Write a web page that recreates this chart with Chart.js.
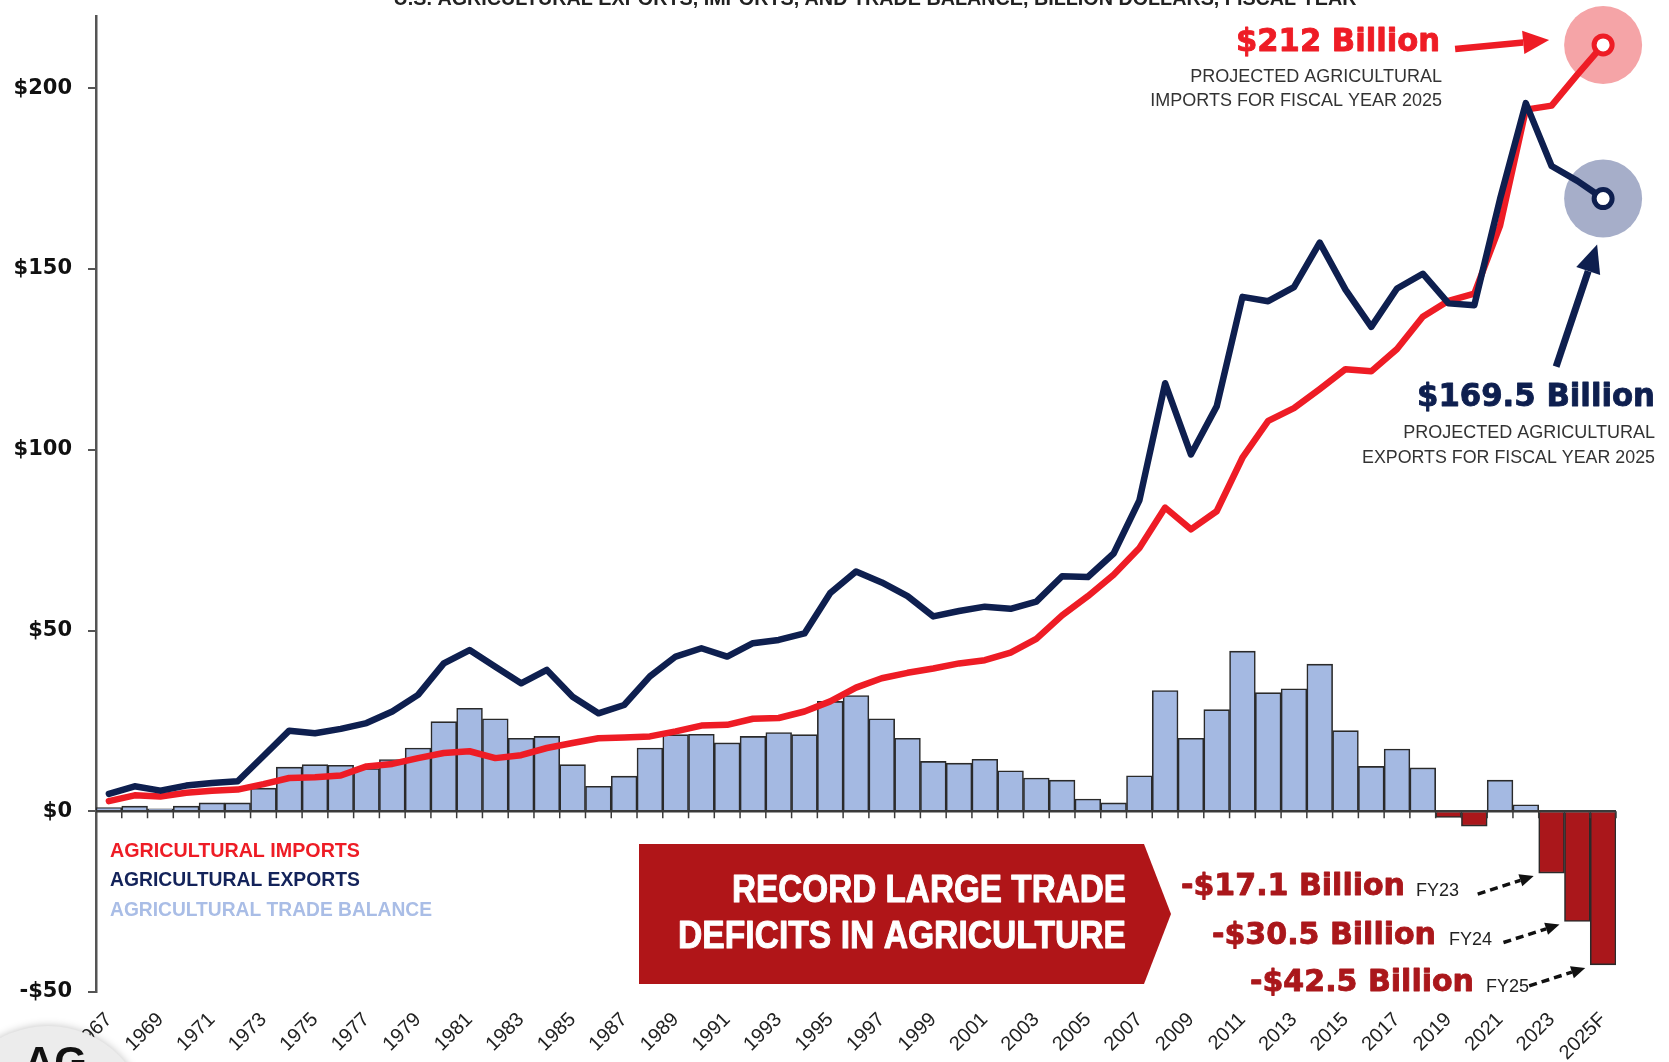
<!DOCTYPE html>
<html>
<head>
<meta charset="utf-8">
<title>U.S. Agricultural Trade</title>
<script src="https://cdn.jsdelivr.net/npm/chart.js@4.4.1/dist/chart.umd.min.js"></script>
<style>
  html, body { margin: 0; padding: 0; background: #fff; }
  #wrap { width: 1669px; height: 1062px; position: relative; }
</style>
</head>
<body>
<div id="wrap"><canvas id="grafico"></canvas></div>
<script>
const years = ['1967','1968','1969','1970','1971','1972','1973','1974','1975','1976',
  '1977','1978','1979','1980','1981','1982','1983','1984','1985','1986',
  '1987','1988','1989','1990','1991','1992','1993','1994','1995','1996',
  '1997','1998','1999','2000','2001','2002','2003','2004','2005','2006',
  '2007','2008','2009','2010','2011','2012','2013','2014','2015','2016',
  '2017','2018','2019','2020','2021','2022','2023','2024','2025F'];

// billion dollars, fiscal year
const exportsUS = [4.8, 6.9, 5.7, 7.1, 7.8, 8.3, 15.3, 22.3, 21.6, 22.8,
  24.4, 27.6, 32.2, 40.9, 44.6, 40.0, 35.4, 39.1, 31.7, 27.1,
  29.4, 37.3, 42.8, 45.1, 42.8, 46.5, 47.4, 49.2, 60.4, 66.3,
  63.3, 59.5, 53.9, 55.4, 56.6, 56.0, 58.0, 65.0, 64.8, 71.3,
  86.0, 118.4, 98.7, 112.0, 142.3, 141.1, 145.0, 157.3, 144.3, 134.0,
  144.6, 148.7, 140.5, 140.0, 169.4, 195.9, 178.5, 174.4, 169.5];

const importsUS = [2.8, 4.4, 4.1, 5.1, 5.7, 6.0, 7.5, 9.2, 9.4, 9.9,
  12.4, 13.1, 14.7, 16.1, 16.6, 14.7, 15.5, 17.5, 18.9, 20.2,
  20.4, 20.7, 22.1, 23.7, 23.9, 25.6, 25.8, 27.6, 30.4, 34.2,
  36.8, 38.3, 39.5, 40.9, 41.8, 43.9, 47.7, 54.2, 59.5, 65.4,
  72.8, 84.0, 78.0, 83.0, 97.8, 108.0, 111.5, 116.8, 122.3, 121.7,
  127.9, 136.8, 141.2, 143.2, 162.0, 194.1, 195.2, 203.8, 212.0];

const balance = [1.0, 1.4, 0.7, 1.4, 2.3, 2.3, 6.4, 12.2, 12.9, 12.7,
  11.8, 14.3, 17.5, 24.8, 28.5, 25.6, 20.2, 20.7, 12.9, 6.9,
  9.7, 17.5, 21.2, 21.3, 18.9, 20.7, 21.8, 21.2, 30.4, 32.0,
  25.6, 20.2, 13.8, 13.3, 14.4, 11.2, 9.2, 8.6, 3.4, 2.3,
  9.8, 33.4, 20.2, 28.1, 44.3, 32.8, 33.9, 40.7, 22.3, 12.4,
  17.2, 12.0, -1.7, -4.1, 8.6, 1.8, -17.1, -30.5, -42.5];

const yTicks = [-50, 0, 50, 100, 150, 200];

const NAVY = '#0e1f4f';
const RED = '#ee1c25';
const DARK_RED = '#aa171b';
const BAR_BLUE = '#a4b9e2';
const last = years.length - 1;

function arrow(ctx, x1, y1, x2, y2, color, width, head, dash) {
  const a = Math.atan2(y2 - y1, x2 - x1);
  const bx = x2 - Math.cos(a) * head;
  const by = y2 - Math.sin(a) * head;
  ctx.save();
  ctx.strokeStyle = color;
  ctx.fillStyle = color;
  ctx.lineWidth = width;
  if (dash) ctx.setLineDash(dash);
  ctx.beginPath();
  ctx.moveTo(x1, y1);
  ctx.lineTo(bx, by);
  ctx.stroke();
  ctx.setLineDash([]);
  ctx.beginPath();
  ctx.moveTo(x2, y2);
  ctx.lineTo(bx + Math.sin(a) * head * 0.45, by - Math.cos(a) * head * 0.45);
  ctx.lineTo(bx - Math.sin(a) * head * 0.45, by + Math.cos(a) * head * 0.45);
  ctx.closePath();
  ctx.fill();
  ctx.restore();
}

// heavy = stroke the glyphs too, to get a blacker weight
function txt(ctx, s, x, y, font, color, align, maxW, heavy) {
  ctx.save();
  ctx.font = font;
  ctx.fillStyle = color;
  ctx.textAlign = align || 'left';
  ctx.textBaseline = 'middle';
  if (heavy) {
    ctx.strokeStyle = color;
    ctx.lineWidth = heavy;
    ctx.lineJoin = 'round';
    if (maxW) ctx.strokeText(s, x, y, maxW); else ctx.strokeText(s, x, y);
  }
  if (maxW) ctx.fillText(s, x, y, maxW);
  else ctx.fillText(s, x, y);
  ctx.restore();
}

// light halos behind the 2025 points
const halos = {
  id: 'halos',
  beforeDatasetsDraw(chart) {
    const ctx = chart.ctx;
    [[1, '#f5a4a7'], [2, '#a6aec9']].forEach(([di, c]) => {
      const p = chart.getDatasetMeta(di).data[last];
      ctx.save();
      ctx.fillStyle = c;
      ctx.beginPath();
      ctx.arc(p.x, p.y, 39, 0, Math.PI * 2);
      ctx.fill();
      ctx.restore();
    });
  }
};

// zero line with small ticks between the years
const zeroLine = {
  id: 'zeroLine',
  afterDatasetsDraw(chart) {
    const { ctx, chartArea, scales: { x, y } } = chart;
    const y0 = y.getPixelForValue(0);
    const half = (x.getPixelForValue(1) - x.getPixelForValue(0)) / 2;
    ctx.save();
    ctx.strokeStyle = '#3a3a3a';
    ctx.lineWidth = 2.5;
    ctx.beginPath();
    ctx.moveTo(chartArea.left, y0);
    ctx.lineTo(chartArea.right, y0);
    ctx.stroke();
    ctx.lineWidth = 1.5;
    for (let i = 0; i < years.length; i++) {
      const bx = x.getPixelForValue(i) + half;
      ctx.beginPath();
      ctx.moveTo(bx, y0);
      ctx.lineTo(bx, y0 + 7);
      ctx.stroke();
    }
    ctx.restore();
  }
};

const notes = {
  id: 'notes',
  afterDraw(chart) {
    const { ctx, scales: { x, y } } = chart;

    // title, cut at the top edge
    ctx.save();
    ctx.font = 'bold 20px "Liberation Sans"';
    ctx.fillStyle = '#222';
    ctx.textAlign = 'center';
    ctx.textBaseline = 'alphabetic';
    ctx.fillText('U.S. AGRICULTURAL EXPORTS, IMPORTS, AND TRADE BALANCE, BILLION DOLLARS, FISCAL YEAR', 875, 5, 963);
    ctx.restore();

    // legend
    const lf = 'bold 20px "Liberation Sans"';
    txt(ctx, 'AGRICULTURAL IMPORTS', 110, 851, lf, RED, 'left', 250);
    txt(ctx, 'AGRICULTURAL EXPORTS', 110, 880, lf, '#13235a', 'left', 250);
    txt(ctx, 'AGRICULTURAL TRADE BALANCE', 110, 910, lf, '#a9bde6', 'left', 322);

    // imports 2025 note
    const pi = chart.getDatasetMeta(1).data[last];
    txt(ctx, '$212 Billion', 1440, 43, 'bold 32px "DejaVu Sans"', RED, 'right', 204, 0.9);
    txt(ctx, 'PROJECTED AGRICULTURAL', 1442, 77, '18px "Liberation Sans"', '#333', 'right', 253);
    txt(ctx, 'IMPORTS FOR FISCAL YEAR 2025', 1442, 101, '18px "Liberation Sans"', '#333', 'right', 296);
    arrow(ctx, pi.x - 148, pi.y + 4, pi.x - 54, pi.y - 5, RED, 6.5, 26);

    // exports 2025 note
    const pe = chart.getDatasetMeta(2).data[last];
    txt(ctx, '$169.5 Billion', 1655, 398, 'bold 32px "DejaVu Sans"', NAVY, 'right', 238, 0.9);
    txt(ctx, 'PROJECTED AGRICULTURAL', 1655, 433, '18px "Liberation Sans"', '#333', 'right', 253);
    txt(ctx, 'EXPORTS FOR FISCAL YEAR 2025', 1655, 458, '18px "Liberation Sans"', '#333', 'right', 293);
    arrow(ctx, pe.x - 47, pe.y + 168, pe.x - 6, pe.y + 46, NAVY, 7, 28);

    // banner
    ctx.save();
    ctx.fillStyle = '#b01518';
    ctx.beginPath();
    ctx.moveTo(639, 844);
    ctx.lineTo(1144, 844);
    ctx.lineTo(1171, 914);
    ctx.lineTo(1144, 984);
    ctx.lineTo(639, 984);
    ctx.closePath();
    ctx.fill();
    ctx.restore();
    txt(ctx, 'RECORD LARGE TRADE', 1126, 891, 'bold 39px "Liberation Sans"', '#fff', 'right', 394, 1);
    txt(ctx, 'DEFICITS IN AGRICULTURE', 1126, 937, 'bold 39px "Liberation Sans"', '#fff', 'right', 448, 1);

    // deficit labels with dashed arrows to the bars
    const half = (x.getPixelForValue(1) - x.getPixelForValue(0)) / 2;
    const deficits = [
      ['-$17.1 Billion', 'FY23', 56, 1405, 887, 1416],
      ['-$30.5 Billion', 'FY24', 57, 1436, 936, 1449],
      ['-$42.5 Billion', 'FY25', 58, 1474, 983, 1486]
    ];
    deficits.forEach(([big, fy, i, bx, by, fx]) => {
      txt(ctx, big, bx, by, 'bold 31px "DejaVu Sans"', DARK_RED, 'right', 224, 0.9);
      txt(ctx, fy, fx, by + 4, '18px "Liberation Sans"', '#222', 'left', 48);
      const tx = x.getPixelForValue(i) - half - 5;
      const ty = y.getPixelForValue(balance[i]) + 3;
      arrow(ctx, tx - 56, ty + 18, tx, ty, '#111', 3.5, 14, [8, 5]);
    });

    // badge in the corner
    ctx.save();
    ctx.shadowColor = 'rgba(0,0,0,0.25)';
    ctx.shadowBlur = 8;
    ctx.fillStyle = '#ececec';
    ctx.beginPath();
    ctx.arc(48, 1126, 100, 0, Math.PI * 2);
    ctx.fill();
    ctx.restore();
    ctx.save();
    ctx.font = 'bold 42px "Liberation Sans"';
    ctx.fillStyle = '#111';
    ctx.textAlign = 'left';
    ctx.textBaseline = 'alphabetic';
    ctx.fillText('AG', 24, 1076);
    ctx.restore();
  }
};

const ctx = document.getElementById('grafico').getContext('2d');

new Chart(ctx, {
  data: {
    labels: years,
    datasets: [
      {
        type: 'bar',
        label: 'AGRICULTURAL TRADE BALANCE',
        data: balance,
        backgroundColor: c => c.raw < 0 ? DARK_RED : BAR_BLUE,
        borderColor: '#2a2a2a',
        borderWidth: 1.6,
        borderSkipped: 'start',
        barPercentage: 1,
        categoryPercentage: 1,
        order: 3
      },
      {
        type: 'line',
        label: 'AGRICULTURAL IMPORTS',
        data: importsUS,
        borderColor: RED,
        borderWidth: 6.5,
        tension: 0,
        borderJoinStyle: 'round',
        borderCapStyle: 'round',
        pointRadius: c => c.dataIndex === last ? 9 : 0,
        pointBackgroundColor: '#fff',
        pointBorderColor: RED,
        pointBorderWidth: 5,
        clip: false,
        order: 2
      },
      {
        type: 'line',
        label: 'AGRICULTURAL EXPORTS',
        data: exportsUS,
        borderColor: NAVY,
        borderWidth: 6.5,
        tension: 0,
        borderJoinStyle: 'round',
        borderCapStyle: 'round',
        pointRadius: c => c.dataIndex === last ? 9 : 0,
        pointBackgroundColor: '#fff',
        pointBorderColor: NAVY,
        pointBorderWidth: 5,
        clip: false,
        order: 1
      }
    ]
  },
  options: {
    responsive: true,
    maintainAspectRatio: false,
    animation: false,
    events: [],
    layout: {
      padding: { top: 16, right: 53, left: 0, bottom: 0 }
    },
    plugins: {
      legend: { display: false },
      title: { display: false },
      tooltip: { enabled: false }
    },
    scales: {
      x: {
        offset: true,
        grid: { display: false, drawTicks: false },
        border: { display: false },
        ticks: {
          autoSkip: false,
          minRotation: 45,
          maxRotation: 45,
          padding: 16,
          color: '#222',
          font: { family: 'Liberation Sans', size: 20 },
          callback: function (v, i) {
            return i % 2 === 0 ? this.getLabelForValue(v) : '';
          }
        },
        afterFit: s => { s.height = 70; s.paddingLeft = 0; s.paddingRight = 0; }
      },
      y: {
        min: -50,
        max: 220,
        afterBuildTicks: s => { s.ticks = yTicks.map(v => ({ value: v })); },
        grid: {
          drawOnChartArea: false,
          drawTicks: true,
          tickLength: 8,
          tickColor: '#555',
          lineWidth: 2
        },
        border: { display: true, color: '#555', width: 2.5 },
        ticks: {
          padding: 16,
          color: '#111',
          font: { family: 'DejaVu Sans', weight: 'bold', size: 21 },
          callback: v => (v < 0 ? '-$' : '$') + Math.abs(v)
        },
        afterFit: s => { s.width = 96; s.paddingTop = 0; s.paddingBottom = 0; }
      }
    }
  },
  plugins: [halos, zeroLine, notes]
});
</script>
</body>
</html>
